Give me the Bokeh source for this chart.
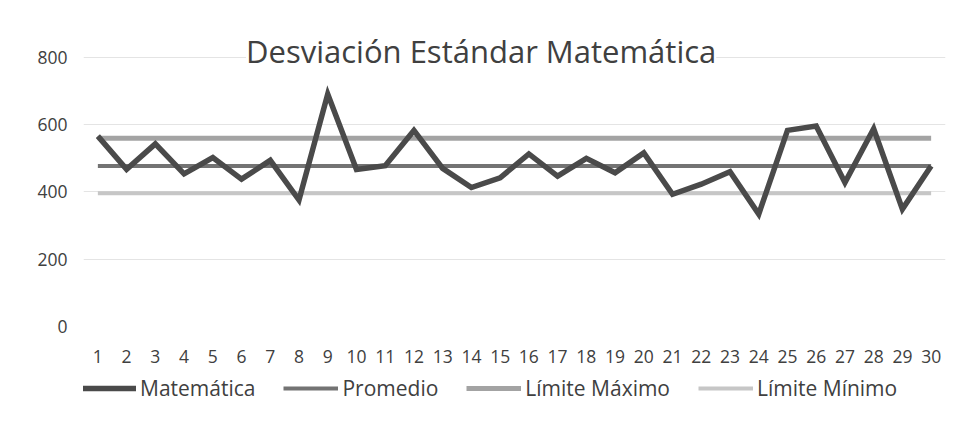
from bokeh.plotting import figure
from bokeh.layouts import column
from bokeh.models import Range1d, FixedTicker, Legend, LegendItem, Label
from bokeh.embed import file_html
from bokeh.resources import INLINE

# Data
estudiantes = list(range(1, 31))
matematica = [566, 467, 543, 454, 502, 438, 494, 376, 691, 467,
              478, 583, 470, 413, 442, 513, 447, 500, 457, 516,
              393, 423, 460, 334, 583, 596, 428, 588, 349, 477]
promedio_valor = 477
limite_max_valor = 560
limite_min_valor = 396
promedio = [promedio_valor] * len(estudiantes)
limite_max = [limite_max_valor] * len(estudiantes)
limite_min = [limite_min_valor] * len(estudiantes)
y_ticks = [0, 200, 400, 600, 800]
titulo = "Desviación Estándar Matemática"
nombres = ["Matemática", "Promedio", "Límite Máximo", "Límite Mínimo"]

FONT = "Open Sans"
TXT = "#404040"
estilos = [
    dict(line_color="#4a4a4a", line_width=5.5),
    dict(line_color="#737373", line_width=4),
    dict(line_color="#a3a3a3", line_width=5),
    dict(line_color="#c6c6c6", line_width=4),
]
series = [matematica, promedio, limite_max, limite_min]

W = 951
p = figure(width=W, height=370, output_backend="svg", toolbar_location=None,
           x_range=Range1d(0.5, 30.5), y_range=Range1d(0, 880),
           min_border_left=83, min_border_right=6, min_border_top=30,
           min_border_bottom=44)
p.outline_line_color = None
p.background_fill_color = "white"
p.border_fill_color = "white"

p.xgrid.grid_line_color = None
p.ygrid.grid_line_color = "#e4e4e4"
p.ygrid.grid_line_width = 1

p.yaxis.ticker = FixedTicker(ticks=y_ticks)
p.xaxis.ticker = FixedTicker(ticks=estudiantes)
for ax in (p.xaxis[0], p.yaxis[0]):
    ax.axis_line_color = None
    ax.major_tick_line_color = None
    ax.minor_tick_line_color = None
    ax.major_label_text_font = FONT
    ax.major_label_text_color = TXT
    ax.major_label_text_font_size = "17.5px"
p.xaxis.major_label_standoff = 17
p.yaxis.major_label_standoff = 10

# draw order: minimum, maximum, average, data on top
for i in (3, 2, 1, 0):
    p.line(estudiantes, series[i], line_join="miter", **estilos[i])

title = Label(x=14.34, y=819, text=titulo, text_align="center",
              text_baseline="alphabetic", text_font=FONT,
              text_font_size="31px", text_color=TXT,
              background_fill_color="white")
p.add_layout(title)

# legend strip below the chart
lg = figure(width=W, height=44, output_backend="svg", toolbar_location=None,
            x_range=Range1d(1000, 1001), y_range=Range1d(0, 1),
            min_border=0, x_axis_type=None, y_axis_type=None)
lg.outline_line_color = None
lg.xgrid.grid_line_color = None
lg.ygrid.grid_line_color = None
items = []
for nombre, serie, est in zip(nombres, series, estilos):
    r = lg.line(estudiantes, serie, **est)
    items.append(LegendItem(label=nombre, renderers=[r]))
legend = Legend(items=items, orientation="horizontal", location=(-2, 12))
legend.label_text_font = FONT
legend.label_text_font_size = "21px"
legend.label_text_color = TXT
legend.glyph_width = 55
legend.glyph_height = 20
legend.label_standoff = 4
legend.spacing = 28
legend.padding = 0
legend.margin = 0
legend.border_line_color = None
legend.background_fill_alpha = 0
lg.add_layout(legend)

layout = column(p, lg, spacing=0)
open("out.html", "w").write(file_html(layout, INLINE))
